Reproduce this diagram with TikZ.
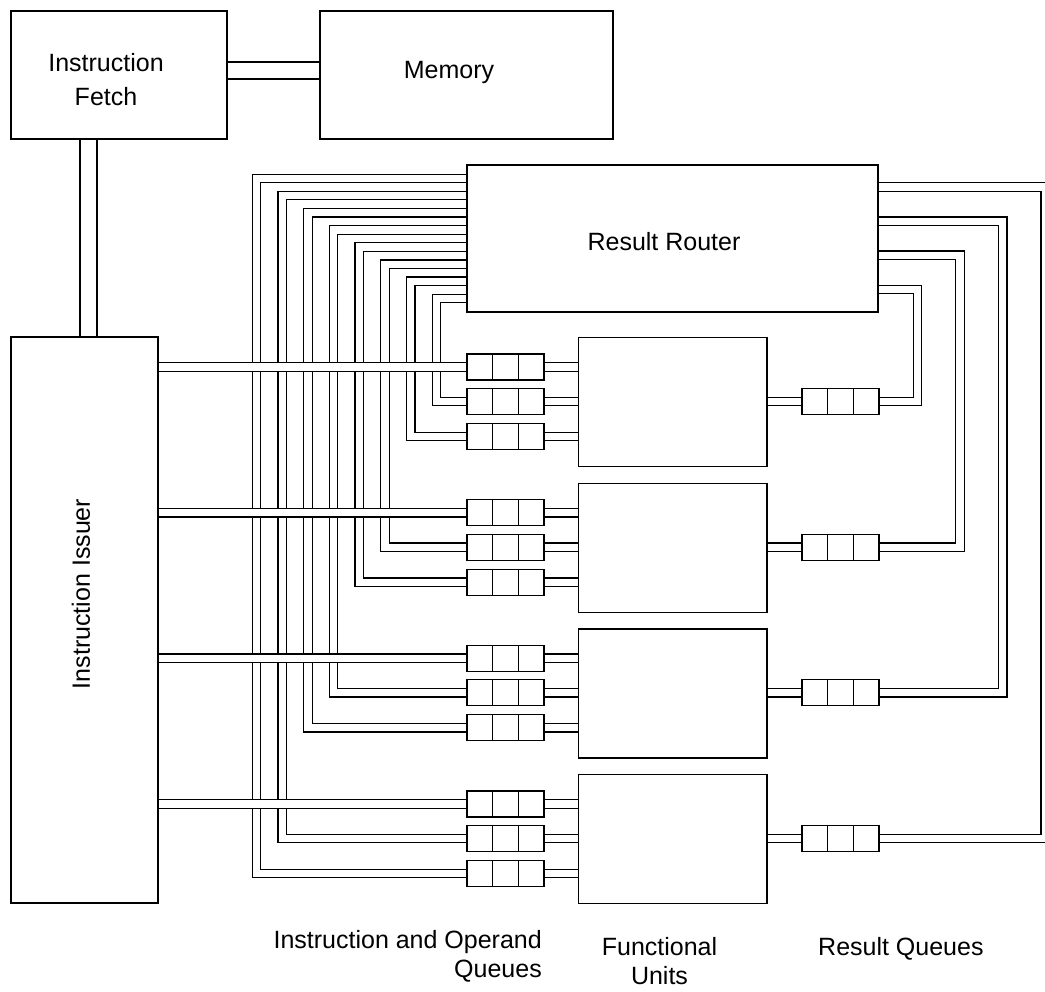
\documentclass[tikz,border=0pt]{standalone}
\usepackage{fontspec}
\setmainfont{Liberation Sans}
\usetikzlibrary{positioning}
\definecolor{wire}{RGB}{0,0,0}
\tikzset{
  blk/.style={draw=wire, line width=1.2pt, inner sep=0pt},
  fu/.style={blk, minimum width=188.5pt, minimum height=129pt},
  que/.style={blk, minimum width=77pt, minimum height=26pt,
    path picture={\draw[wire, line width=1.2pt]
      ([xshift=25.67pt]path picture bounding box.north west) -- ([xshift=25.67pt]path picture bounding box.south west)
      ([xshift=-25.67pt]path picture bounding box.north east) -- ([xshift=-25.67pt]path picture bounding box.south east);}},
  txt/.style={font=\fontsize{25}{34}\selectfont, align=center, inner sep=0pt},
  lbl/.style={font=\fontsize{25}{29.5}\selectfont, align=center, inner sep=0pt},
  bus/.style={draw=wire, line width=1.2pt, double=white, double distance=7.3pt},
  wbus/.style={bus, double distance=15.8pt},
}
\begin{document}
\begin{tikzpicture}[x=1pt, y=-1pt]
\useasboundingbox (0,0) rectangle (1045,992);
\node[blk, minimum width=216pt, minimum height=128pt,
  label={[txt, xshift=-13pt, yshift=-4.25pt]center:Instruction\\Fetch}] (fetch) at (119,75) {};
\node[blk, minimum width=293pt, minimum height=128pt,
  label={[txt, xshift=-17.5pt, yshift=2.2pt]center:Memory}] (mem) at (466.5,75) {};
\node[blk, minimum width=411pt, minimum height=147pt,
  label={[txt, xshift=-8.5pt, yshift=-3.5pt]center:Result Router}] (rr) at (672.5,238.5) {};
\node[blk, minimum width=147pt, minimum height=566pt,
  label={[txt, xshift=-3.5pt, yshift=26pt, rotate=90]center:Instruction Issuer}] (iss) at (84.5,620) {};

\draw[wbus] (fetch.east |- 0,70.5) -- (mem.west |- 0,70.5);
\draw[wbus] (fetch.south -| 88.5,0) -- (iss.north -| 88.5,0);

% functional units with their queues
\foreach \i in {1,...,4}{
  \pgfmathsetmacro\fy{337+(\i-1)*145.67}
  \node[fu, anchor=north] (fu\i) at (672.75,\fy) {};
  \node[que] (qa\i) at (505.5,{\fy+30}) {};
  \node[que] (qb\i) at (505.5,{\fy+64.5}) {};
  \node[que] (qc\i) at (505.5,{\fy+99.5}) {};
  \node[que] (rq\i) at (840.5,{\fy+64.5}) {};
  \draw[bus] (qa\i.east) -- (qa\i.east -| fu\i.west);
  \draw[bus] (qb\i.east) -- (qb\i.east -| fu\i.west);
  \draw[bus] (qc\i.east) -- (qc\i.east -| fu\i.west);
  \draw[bus] (fu\i.east |- rq\i.west) -- (rq\i.west);
  % router feeds
  \pgfmathsetmacro\xb{256.5+(9-2*\i)*25.7}
  \pgfmathsetmacro\yb{178.5+(9-2*\i)*17.14}
  \pgfmathsetmacro\xc{256.5+(8-2*\i)*25.7}
  \pgfmathsetmacro\yc{178.5+(8-2*\i)*17.14}
  \draw[bus] (qb\i.west) -| (\xb,\yb) -- (rr.west |- 0,\yb);
  \draw[bus] (qc\i.west) -| (\xc,\yc) -- (rr.west |- 0,\yc);
  \pgfmathsetmacro\xr{917.5+(\i-1)*42.58}
  \pgfmathsetmacro\yr{289.5-(\i-1)*34.17}
  \draw[bus] (rq\i.east) -| (\xr,\yr) -- (rr.east |- 0,\yr);
}
% issuer lines over the router lines
\foreach \i in {1,...,4}
  \draw[bus] (iss.east |- qa\i.west) -- (qa\i.west);

\node[lbl, anchor=north east, align=right] (oqlbl) at (542,930) {Instruction and Operand\\Queues};
\node[lbl, anchor=north] (fulbl) at (659.5,937) {Functional\\Units};
\node[lbl, anchor=north west] (rqlbl) at (818,937) {Result Queues};
\end{tikzpicture}
\end{document}
